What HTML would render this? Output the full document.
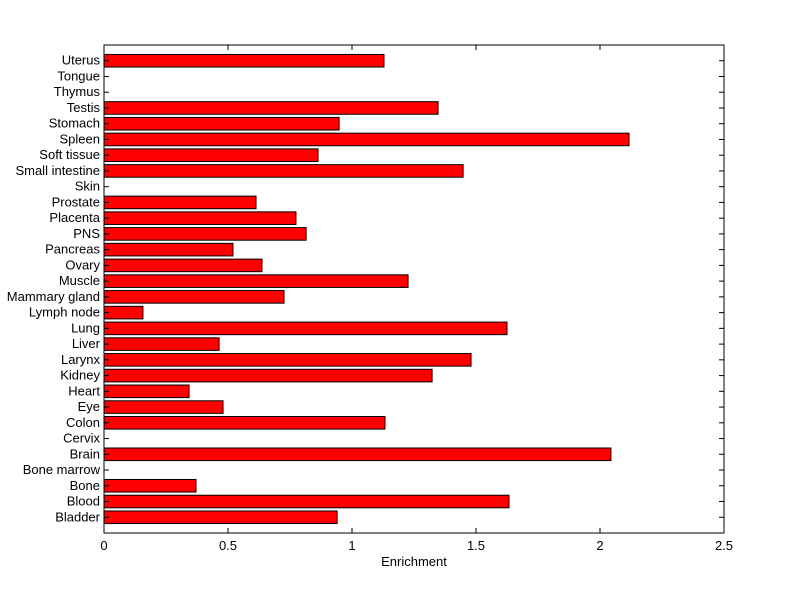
<!DOCTYPE html>
<html><head><meta charset="utf-8"><style>
body{margin:0;background:#fff;}
svg{display:block;font-family:"Liberation Sans",sans-serif;font-size:13px;}
</style></head><body>
<svg id="chart" width="800" height="599"></svg>
<script>
const categories=["Bladder","Blood","Bone","Bone marrow","Brain","Cervix","Colon","Eye","Heart","Kidney","Larynx","Liver","Lung","Lymph node","Mammary gland","Muscle","Ovary","Pancreas","PNS","Placenta","Prostate","Skin","Small intestine","Soft tissue","Spleen","Stomach","Testis","Thymus","Tongue","Uterus"];
const values=[0.94,1.633,0.371,0,2.044,0,1.133,0.48,0.343,1.323,1.48,0.464,1.625,0.157,0.726,1.226,0.637,0.52,0.815,0.774,0.613,0,1.448,0.863,2.117,0.948,1.347,0,0,1.129];
const xTicks=[0,0.5,1,1.5,2,2.5];
const xTickLabels=["0","0.5","1","1.5","2","2.5"];
const X0=104,X1=724,Y0=45,Y1=533,XMAX=2.5,YMAX=categories.length+1;
const sx=v=>X0+v/XMAX*(X1-X0);
const sy=i=>Y1-(i+1)/YMAX*(Y1-Y0);
const bh=0.8*(Y1-Y0)/YMAX;
const svg=document.getElementById('chart');
const NS='http://www.w3.org/2000/svg';
function mk(t,a){const e=document.createElementNS(NS,t);for(const k in a)e.setAttribute(k,a[k]);svg.appendChild(e);return e;}
let e=mk('rect',{x:X0,y:Y0,width:X1-X0,height:Y1-Y0,fill:'#fff',stroke:'#000','stroke-width':1});


categories.forEach((c,i)=>{
  const y=sy(i);
  if(values[i]>0){
    const r=mk('rect',{x:X0,y:y-bh/2,width:sx(values[i])-X0,height:bh,fill:'#ff0000',stroke:'#000','stroke-width':1});
    
    
  }
  mk('line',{x1:X0,x2:X0+5,y1:y,y2:y,stroke:'#000'});
  mk('line',{x1:X1-5,x2:X1,y1:y,y2:y,stroke:'#000'});
  const t=mk('text',{x:X0-4,y:y+4,'text-anchor':'end'});
  t.textContent=c;
  
  
});
xTicks.forEach((v,i)=>{
  const x=sx(v);
  mk('line',{x1:x,x2:x,y1:Y1,y2:Y1-5,stroke:'#000'});
  mk('line',{x1:x,x2:x,y1:Y0,y2:Y0+5,stroke:'#000'});
  const t=mk('text',{x:x,y:Y1+17,'text-anchor':'middle'});
  t.textContent=xTickLabels[i];
  
  
});
const xt=mk('text',{x:(X0+X1)/2,y:Y1+33,'text-anchor':'middle'});
xt.textContent='Enrichment';


</script>
</body></html>
